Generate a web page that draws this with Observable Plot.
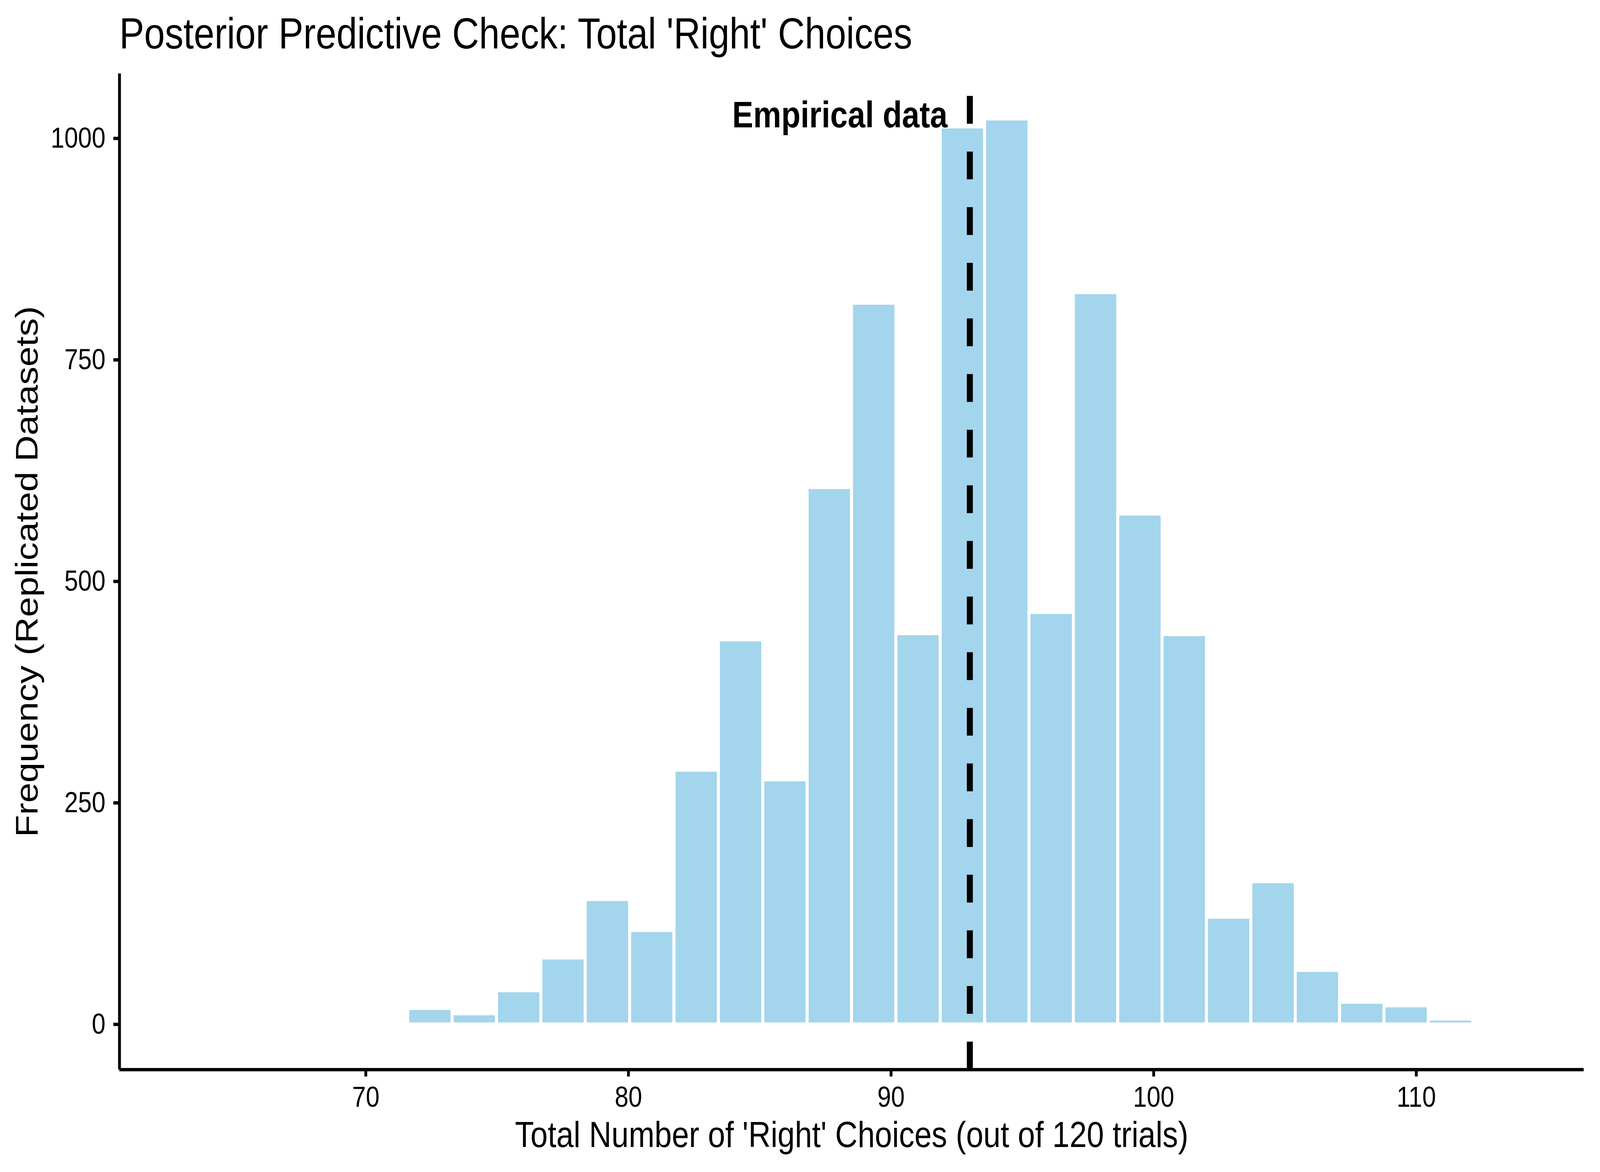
<!DOCTYPE html>
<html>
<head>
<meta charset="utf-8">
<script src="https://cdn.jsdelivr.net/npm/d3@7"></script>
<script src="https://cdn.jsdelivr.net/npm/@observablehq/plot@0.6"></script>
<style>
  html, body { margin: 0; padding: 0; background: white; overflow: hidden; }
  #page { width: 4800px; height: 3000px; position: absolute; left: 0; top: 0; transform-origin: 0 0;
          font-family: "Liberation Sans", Arial, Helvetica, sans-serif; background: white; }
  #title { height: 160px; position: relative; }
  #title span { position: absolute; left: 358px; top: 30px; font-size: 111.6px; line-height: 112px; white-space: nowrap; color: black; }
  #chart svg { display: block; }
</style>
</head>
<body>
<div id="page">
  <div id="title"><span></span></div>
  <div id="chart"></div>
</div>
<script>
// ---- data ----
const binMin = 64;          // smallest replicated total
const binMax = 113;         // largest replicated total
const nBins = 30;           // ggplot default bins
const counts = [1, 1, 2, 3, 3, 18, 12, 38, 75, 141, 106, 287, 434, 276, 606, 814, 441,
                1013, 1022, 465, 826, 576, 440, 121, 161, 61, 25, 21, 6, 1];
const observed = 93;        // empirical total of 'Right' choices
const xTicks = [70, 80, 90, 100, 110];
const yTicks = [0, 250, 500, 750, 1000];
const titleText = "Posterior Predictive Check: Total 'Right' Choices";
const xLabel = "Total Number of 'Right' Choices (out of 120 trials)";
const yLabel = "Frequency (Replicated Datasets)";
const annotationText = "Empirical data";

// ---- derived histogram table ----
const binWidth = (binMax - binMin) / (nBins - 1);
const binStart = binMin - binWidth / 2;
const bins = counts.map((c, i) => ({x1: binStart + i * binWidth, x2: binStart + (i + 1) * binWidth, count: c}));
const binEnd = binStart + nBins * binWidth;
const xRange = binEnd - binStart;
const xDomain = [binStart - 0.05 * xRange, binEnd + 0.05 * xRange];
const maxCount = d3.max(counts);
const yDomain = [-0.05 * maxCount, 1.05 * maxCount];

document.querySelector("#title span").textContent = titleText;

const font = "'Liberation Sans', Arial, Helvetica, sans-serif";

const chart = Plot.plot({
  width: 4800,
  height: 2840,
  marginTop: 28,
  marginBottom: 262.5,
  marginLeft: 358,
  marginRight: 49,
  x: {domain: xDomain},
  y: {domain: yDomain},
  style: {fontFamily: font, fontSize: "74px", color: "black", background: "white", overflow: "visible"},
  marks: [
    Plot.rect(bins, {x1: "x1", x2: "x2", y1: 0, y2: "count", fill: "#A3D5EC", stroke: "white", strokeWidth: 9}),
    Plot.ruleX([observed], {x: d => d, y1: yDomain[0], y2: yDomain[1], stroke: "black", strokeWidth: 18, strokeDasharray: "71.2,71.2"}),
    Plot.text([annotationText], {x: observed, y: maxCount, text: d => d, textAnchor: "end", lineAnchor: "middle",
      dx: -67, dy: -9, fontWeight: "bold", fontSize: 94.5, fill: "black"}),
    Plot.axisX(xTicks, {tickSize: 18, tickPadding: 24.5, fontSize: 74, strokeWidth: 8.5, label: null, tickFormat: d => String(d)}),
    Plot.axisY(yTicks, {tickSize: 18, tickPadding: 24, fontSize: 74, strokeWidth: 8.5, label: null, tickFormat: d => String(d)}),
    Plot.ruleY([yDomain[0]], {stroke: "black", strokeWidth: 8.5}),
    Plot.ruleX([xDomain[0]], {stroke: "black", strokeWidth: 8.5}),
    Plot.text([xLabel], {frameAnchor: "bottom", text: d => d, lineAnchor: "top", dy: 131.5, fontSize: 93, fill: "black"}),
    Plot.text([yLabel], {frameAnchor: "left", text: d => d, rotate: -90, lineAnchor: "middle", textAnchor: "middle", dx: -276, fontSize: 93, fill: "black"})
  ]
});
document.getElementById("chart").appendChild(chart);

// fit the 4800x3000 design into the viewport the browser actually provides
function fit() {
  const sx = window.innerWidth / 4800, sy = window.innerHeight / 3000;
  document.getElementById("page").style.transform = `scale(${sx}, ${sy})`;
}
fit();
window.addEventListener("resize", fit);
</script>
</body>
</html>
